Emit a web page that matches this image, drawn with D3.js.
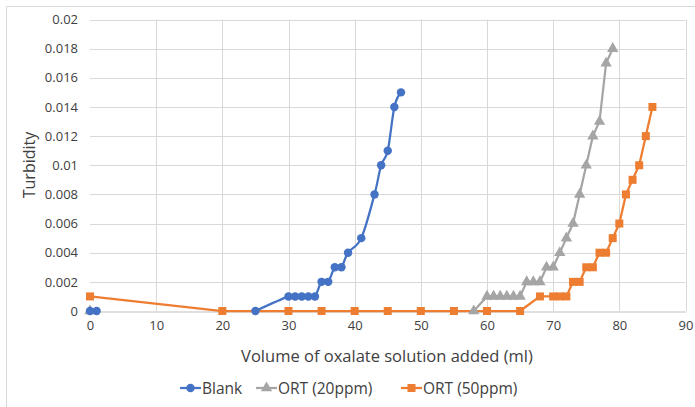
<!DOCTYPE html>
<html>
<head>
<meta charset="utf-8">
<script src="https://cdn.jsdelivr.net/npm/d3@7"></script>
<style>
  body { margin: 0; background: #fff; }
  text { font-family: "Open Sans", "Noto Sans", sans-serif; fill: #404040; }
</style>
</head>
<body>
<svg width="695" height="407"></svg>
<script>
// 資料 (讀自圖片)
const blankX = [0, 1, null, 25, 30, 31, 32, 33, 34, 35, 36, 37, 38, 39, 41, 43, 44, 45, 46, 47];
const blankY = [0, 0, null, 0, 0.001, 0.001, 0.001, 0.001, 0.001, 0.002, 0.002, 0.003, 0.003, 0.004, 0.005, 0.008, 0.010, 0.011, 0.014, 0.015];

const ort20X = [0, null, 58, 60, 61, 62, 63, 64, 65, 66, 67, 68, 69, 70, 71, 72, 73, 74, 75, 76, 77, 78, 79];
const ort20Y = [0, null, 0, 0.001, 0.001, 0.001, 0.001, 0.001, 0.001, 0.002, 0.002, 0.002, 0.003, 0.003, 0.004, 0.005, 0.006, 0.008, 0.010, 0.012, 0.013, 0.017, 0.018];

const ort50X = [0, 20, 30, 35, 40, 45, 50, 55, 60, 65, 68, 70, 71, 72, 73, 74, 75, 76, 77, 78, 79, 80, 81, 82, 83, 84, 85];
const ort50Y = [0.001, 0, 0, 0, 0, 0, 0, 0, 0, 0, 0.001, 0.001, 0.001, 0.001, 0.002, 0.002, 0.003, 0.003, 0.004, 0.004, 0.005, 0.006, 0.008, 0.009, 0.010, 0.012, 0.014];

const seriesNames = ['Blank', 'ORT (20ppm)', 'ORT (50ppm)'];
const xTicks = [0, 10, 20, 30, 40, 50, 60, 70, 80, 90];
const yTicks = [0, 0.002, 0.004, 0.006, 0.008, 0.01, 0.012, 0.014, 0.016, 0.018, 0.02];

function pairs(xs, ys) {
    return xs.map((x, i) => ({ x: x, y: ys[i] }));
}

function render() {
    const svg = d3.select('svg');

    // 圖表外框 (被裁掉一部分)
    svg.append('path')
        .attr('d', 'M6.5,407 V6.5 H695')
        .attr('fill', 'none')
        .attr('stroke', '#d9d9d9');

    const x = d3.scaleLinear().domain([0, 90]).range([90, 685.5]);
    const y = d3.scaleLinear().domain([0, 0.02]).range([311, 19.5]);

    // 格線
    svg.append('g').selectAll('line.h')
        .data(yTicks.slice(1))
        .enter().append('line')
        .attr('x1', x(0)).attr('x2', x(90))
        .attr('y1', d => Math.round(y(d)) + 0.5).attr('y2', d => Math.round(y(d)) + 0.5)
        .attr('stroke', '#d9d9d9');

    svg.append('g').selectAll('line.v')
        .data(xTicks.slice(1))
        .enter().append('line')
        .attr('y1', y(0)).attr('y2', y(0.02))
        .attr('x1', d => Math.round(x(d)) + 0.5).attr('x2', d => Math.round(x(d)) + 0.5)
        .attr('stroke', '#d9d9d9');

    // 座標軸
    const xAxis = svg.append('g')
        .attr('transform', `translate(0,${Math.round(y(0)) + 0.5})`)
        .call(d3.axisBottom(x).tickValues(xTicks).tickSize(0).tickPadding(9));
    xAxis.select('.domain').attr('stroke', '#bfbfbf');
    xAxis.selectAll('text').style('font-size', '13px').attr('fill', '#404040');

    const yAxis = svg.append('g')
        .attr('transform', `translate(${x(0)},0)`)
        .call(d3.axisLeft(y).tickValues(yTicks).tickSize(0).tickPadding(12).tickFormat(d => String(+d.toFixed(3))));
    yAxis.select('.domain').remove();
    yAxis.selectAll('text').style('font-size', '13px').attr('fill', '#404040');

    // 軸標題
    svg.append('text')
        .text('Volume of oxalate solution added (ml)')
        .attr('x', 387).attr('y', 362)
        .attr('text-anchor', 'middle')
        .style('font-size', '16.5px');

    svg.append('text')
        .text('Turbidity')
        .attr('transform', 'translate(35,165) rotate(-90)')
        .attr('text-anchor', 'middle')
        .style('font-size', '16px');

    const colors = ['#4472C4', '#A5A5A5', '#ED7D31'];
    const data = [pairs(blankX, blankY), pairs(ort20X, ort20Y), pairs(ort50X, ort50Y)];
    const curves = [d3.curveCatmullRom.alpha(0), d3.curveLinear, d3.curveLinear];
    const symbols = [d3.symbolCircle, d3.symbolTriangle, d3.symbolSquare];
    const symSize = [56, 56, 64];

    // 畫線 (順序: 50ppm 在下, 再 20ppm, 再 Blank)
    [2, 1, 0].forEach(i => {
        const line = d3.line()
            .defined(d => d.x !== null)
            .x(d => x(d.x))
            .y(d => y(d.y))
            .curve(curves[i]);

        svg.append('path')
            .datum(data[i])
            .attr('d', line)
            .attr('fill', 'none')
            .attr('stroke', colors[i])
            .attr('stroke-width', 2.25);

        svg.append('g').selectAll('path')
            .data(data[i].filter(d => d.x !== null))
            .enter().append('path')
            .attr('d', d3.symbol().type(symbols[i]).size(symSize[i]))
            .attr('transform', d => `translate(${x(d.x)},${y(d.y)})`)
            .attr('fill', colors[i]);
    });

    // 圖例
    const legendX = [180, 256, 401];
    const legend = svg.append('g').selectAll('g')
        .data(seriesNames)
        .enter().append('g')
        .attr('transform', (d, i) => `translate(${legendX[i]},388)`);

    legend.append('line')
        .attr('x1', 0).attr('x2', 21)
        .attr('stroke', (d, i) => colors[i])
        .attr('stroke-width', 2.25);

    legend.append('path')
        .attr('d', (d, i) => d3.symbol().type(symbols[i]).size(symSize[i])())
        .attr('transform', 'translate(10.5,0)')
        .attr('fill', (d, i) => colors[i]);

    legend.append('text')
        .text(d => d)
        .attr('x', 22).attr('y', 5.5)
        .style('font-size', '15.5px');
}

render();
</script>
</body>
</html>
